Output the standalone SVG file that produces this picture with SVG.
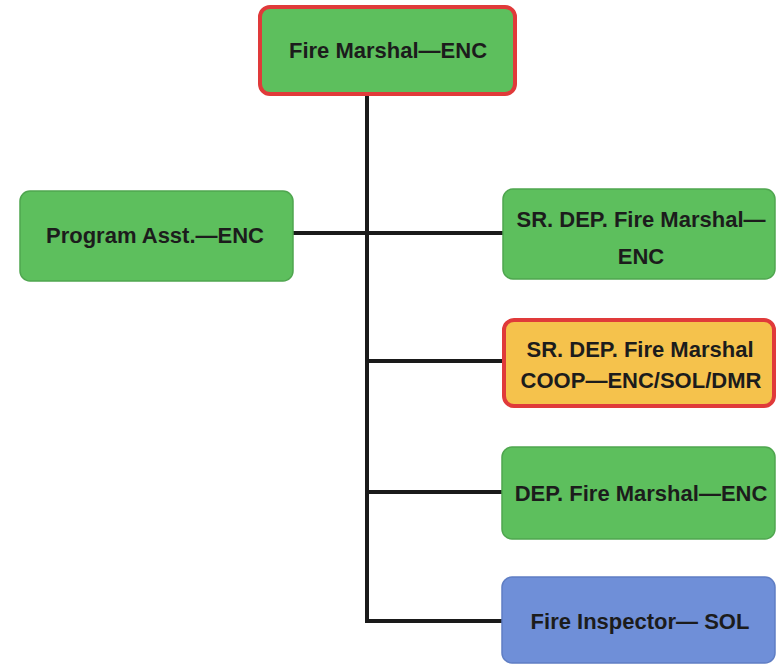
<svg xmlns="http://www.w3.org/2000/svg" width="776" height="666" viewBox="0 0 776 666">
<style>
.box{stroke-width:1.5}
.green{fill:#5dbf5d;stroke:#4fa64f}
.red{stroke:#e03a3a;stroke-width:4}
.orange{fill:#f5c24c}
.blue{fill:#6f8fd8;stroke:#5f7ec4}
.t{font-family:"Liberation Sans",Arial,sans-serif;font-weight:bold;font-size:22px;fill:#1c1c1c;text-anchor:middle}
.c{stroke:#1a1a1a;stroke-width:4;fill:none}
</style>
<rect width="776" height="666" fill="#ffffff"/>
<g id="connectors">
<path class="c" d="M367 96 V621 H502"/>
<path class="c" d="M293 233 H503"/>
<path class="c" d="M367 361 H503"/>
<path class="c" d="M367 492 H502"/>
</g>
<g id="fire-marshal">
<rect class="box green red" x="260" y="7" width="255" height="87" rx="10"/>
<text class="t" x="388" y="58">Fire Marshal—ENC</text>
</g>
<g id="program-asst">
<rect class="box green" x="20" y="191" width="273" height="90" rx="10"/>
<text class="t" x="155" y="243">Program Asst.—ENC</text>
</g>
<g id="sr-dep-fire-marshal">
<rect class="box green" x="503" y="189" width="272" height="90" rx="10"/>
<text class="t" x="641" y="227">SR. DEP. Fire Marshal—</text>
<text class="t" x="641" y="264">ENC</text>
</g>
<g id="sr-dep-coop">
<rect class="box orange red" x="504" y="320" width="270" height="86" rx="10"/>
<text class="t" x="640" y="357">SR. DEP. Fire Marshal</text>
<text class="t" x="641" y="388">COOP—ENC/SOL/DMR</text>
</g>
<g id="dep-fire-marshal">
<rect class="box green" x="502" y="447" width="273" height="92" rx="10"/>
<text class="t" x="641" y="501">DEP. Fire Marshal—ENC</text>
</g>
<g id="fire-inspector">
<rect class="box blue" x="502" y="577" width="273" height="86" rx="10"/>
<text class="t" x="640" y="629">Fire Inspector— SOL</text>
</g>
</svg>
